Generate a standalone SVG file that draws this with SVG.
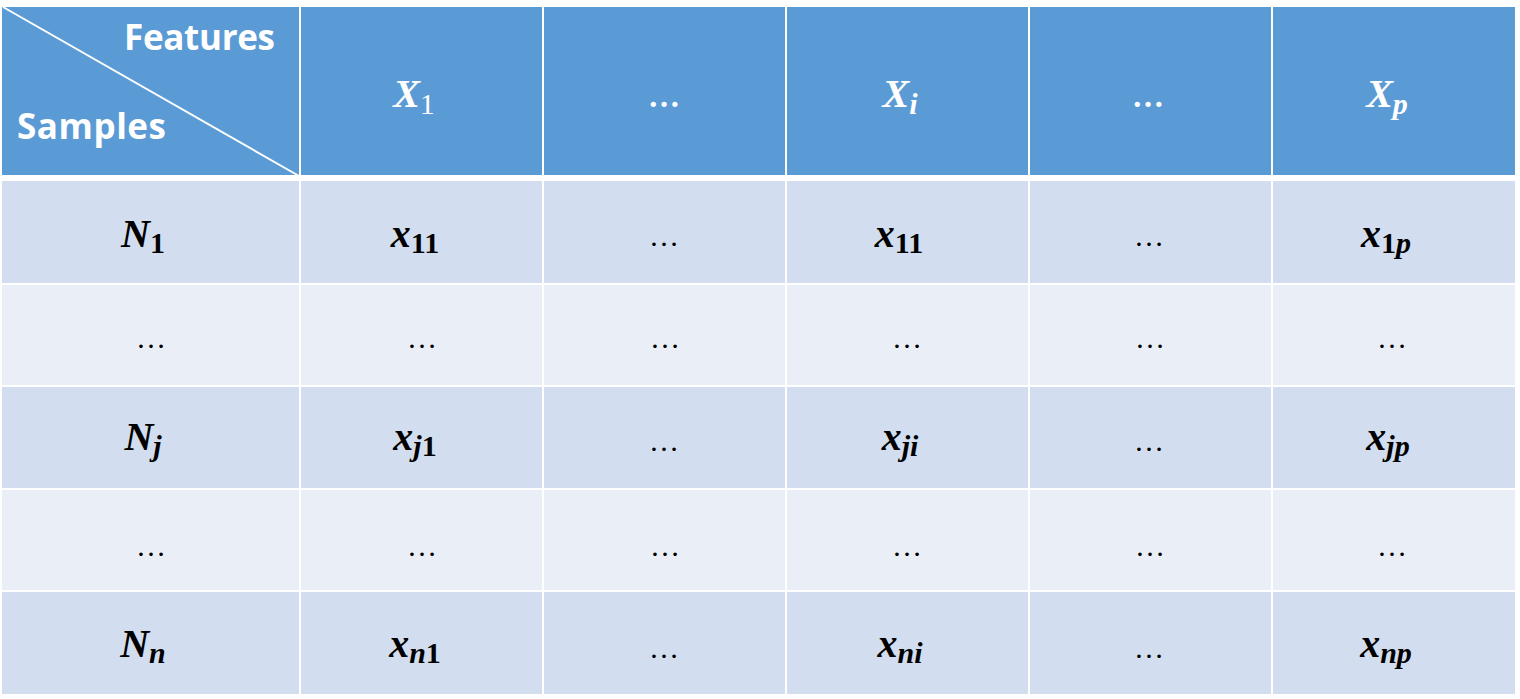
<svg xmlns="http://www.w3.org/2000/svg" width="1520" height="699" viewBox="0 0 1520 699">
<style>
.hd{fill:#5B9BD5}
.dk{fill:#D2DEEF}
.lt{fill:#EAEFF7}
.sep{fill:#FFFFFF}
.lbl{font-family:"Open Sans","Liberation Sans",sans-serif;font-weight:bold;font-size:35px;fill:#FFFFFF}
.m{font-family:"Liberation Serif","DejaVu Serif",serif;font-size:40px;font-weight:bold;font-style:italic;text-anchor:middle;fill:#000000}
.w{fill:#FFFFFF}
.sd{font-size:30px;font-style:normal}
.sdn{font-size:30px;font-style:normal;font-weight:normal}
.si{font-size:30px}
.el{font-family:"Liberation Serif","DejaVu Serif",serif;font-size:30px;text-anchor:middle;fill:#000000}
.elh{font-family:"Liberation Serif","DejaVu Serif",serif;font-size:32px;font-weight:bold;text-anchor:middle;fill:#FFFFFF}
</style>
<rect x="0" y="0" width="1520" height="699" fill="#FFFFFF"/>
<g id="rows">
<rect class="hd" x="2" y="7" width="1513" height="168"/>
<rect class="dk" x="2" y="181" width="1513" height="102"/>
<rect class="lt" x="2" y="285" width="1513" height="100"/>
<rect class="dk" x="2" y="387" width="1513" height="101"/>
<rect class="lt" x="2" y="490" width="1513" height="100"/>
<rect class="dk" x="2" y="592" width="1513" height="102"/>
</g>
<g id="gridlines">
<rect class="sep" x="299" y="7" width="2" height="688"/>
<rect class="sep" x="542" y="7" width="2" height="688"/>
<rect class="sep" x="785" y="7" width="2" height="688"/>
<rect class="sep" x="1028" y="7" width="2" height="688"/>
<rect class="sep" x="1271" y="7" width="2" height="688"/>
<line x1="3" y1="7" x2="299" y2="176" stroke="#FFFFFF" stroke-width="2"/>
</g>
<g id="corner">
<text class="lbl" x="275" y="50" text-anchor="end" textLength="151">Features</text>
<text class="lbl" x="17" y="139" textLength="149">Samples</text>
</g>
<g id="header">
<text class="m w" x="414" y="107">X<tspan class="sdn" dy="7">1</tspan></text>
<text class="elh" x="664" y="107">…</text>
<text class="m w" x="900" y="107">X<tspan class="si" dy="7">i</tspan></text>
<text class="elh" x="1148" y="107">…</text>
<text class="m w" x="1387" y="107">X<tspan class="si" dy="7">p</tspan></text>
</g>
<g id="row1">
<text class="m" x="143" y="247">N<tspan class="sd" dy="6">1</tspan></text>
<text class="m" x="415" y="247">x<tspan class="sd" dy="6">11</tspan></text>
<text class="el" x="664" y="246">…</text>
<text class="m" x="899" y="247">x<tspan class="sd" dy="6">11</tspan></text>
<text class="el" x="1149" y="246">…</text>
<text class="m" x="1386" y="247">x<tspan class="sd" dy="6">1</tspan><tspan class="si">p</tspan></text>
</g>
<g id="row2">
<text class="el" x="151" y="348">…</text>
<text class="el" x="422" y="348">…</text>
<text class="el" x="665" y="348">…</text>
<text class="el" x="907" y="348">…</text>
<text class="el" x="1150" y="348">…</text>
<text class="el" x="1392" y="348">…</text>
</g>
<g id="row3">
<text class="m" x="143" y="450">N<tspan class="si" dy="6">j</tspan></text>
<text class="m" x="415" y="450">x<tspan class="si" dy="6">j</tspan><tspan class="sd">1</tspan></text>
<text class="el" x="664" y="451">…</text>
<text class="m" x="900" y="450">x<tspan class="si" dy="6">ji</tspan></text>
<text class="el" x="1149" y="451">…</text>
<text class="m" x="1388" y="450">x<tspan class="si" dy="6">jp</tspan></text>
</g>
<g id="row4">
<text class="el" x="151" y="556">…</text>
<text class="el" x="422" y="556">…</text>
<text class="el" x="665" y="556">…</text>
<text class="el" x="907" y="556">…</text>
<text class="el" x="1150" y="556">…</text>
<text class="el" x="1392" y="556">…</text>
</g>
<g id="row5">
<text class="m" x="143" y="657">N<tspan class="si" dy="6">n</tspan></text>
<text class="m" x="415" y="657">x<tspan class="si" dy="6">n</tspan><tspan class="sd">1</tspan></text>
<text class="el" x="664" y="658">…</text>
<text class="m" x="900" y="657">x<tspan class="si" dy="6">ni</tspan></text>
<text class="el" x="1149" y="658">…</text>
<text class="m" x="1386" y="657">x<tspan class="si" dy="6">np</tspan></text>
</g>
</svg>
